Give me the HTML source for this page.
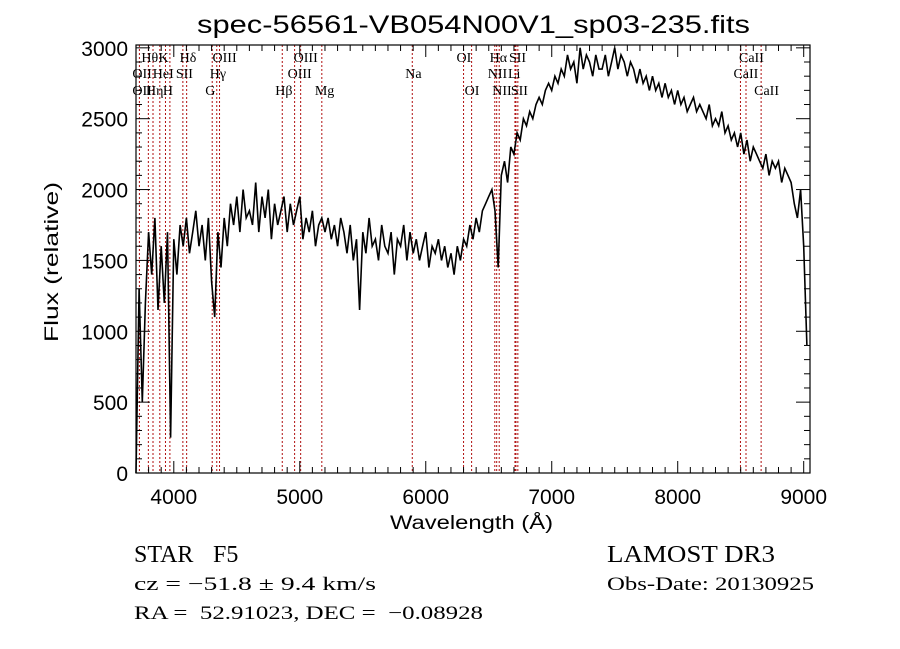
<!DOCTYPE html>
<html><head><meta charset="utf-8"><style>
html,body{margin:0;padding:0;background:#fff;}
svg{display:block;}
text{font-family:"Liberation Serif",serif;fill:#000;white-space:pre;}
.mono{font-family:"Liberation Sans",sans-serif;}
.lbl{font-size:14px;}
</style></head><body>
<svg id="chart" width="900" height="649" viewBox="0 0 900 649" xmlns="http://www.w3.org/2000/svg">
<rect x="0" y="0" width="900" height="649" fill="#fff"/>
<text x="197" y="33" font-size="25" textLength="553" lengthAdjust="spacingAndGlyphs" class="mono">spec-56561-VB054N00V1_sp03-235.fits</text>
<g id="lines"></g>
<g id="labels"></g>
<g id="series"></g>
<g id="axes"></g>
<text x="390" y="529" font-size="19" textLength="163" lengthAdjust="spacingAndGlyphs" class="mono">Wavelength (Å)</text>
<text transform="translate(58,342) rotate(-90)" font-size="19" textLength="160" lengthAdjust="spacingAndGlyphs" class="mono">Flux (relative)</text>
<text x="134" y="562" font-size="24">STAR</text>
<text x="213" y="562" font-size="24">F5</text>
<text x="134" y="590" font-size="19" textLength="242" lengthAdjust="spacingAndGlyphs">cz = −51.8 ± 9.4 km/s</text>
<text x="134" y="619" font-size="19" textLength="349" lengthAdjust="spacingAndGlyphs">RA =  52.91023, DEC =  −0.08928</text>
<text x="607" y="562" font-size="24" textLength="168" lengthAdjust="spacingAndGlyphs">LAMOST DR3</text>
<text x="607" y="590" font-size="19" textLength="207" lengthAdjust="spacingAndGlyphs">Obs-Date: 20130925</text>
</svg>
<script>
const wlStart = 3700;
const wlStep = 25;
const flux = [
0,1300,500,1200, 1700,1400,1800,1150, 1600,1200,1700,250, 1650,1400,1750,1600,
1800,1550,1700,1850, 1600,1750,1500,1800, 1350,1100,1700,1450, 1800,1600,1900,1750,
1950,1700,2000,1800, 1850,1750,2050,1700, 1950,1800,2000,1650, 1900,1750,1850,1950,
1700,1900,1750,1850, 1950,1650,1800,1700, 1850,1600,1750,1800, 1700,1800,1650,1750,
1600,1800,1700,1550, 1750,1500,1650,1150, 1700,1550,1800,1600, 1650,1500,1750,1600,
1550,1700,1400,1650, 1600,1750,1500,1700, 1550,1650,1500,1600, 1700,1450,1600,1550,
1650,1500,1600,1450, 1550,1400,1600,1500, 1650,1600,1750,1650, 1800,1700,1850,1900,
1950,2000,1850,1450, 2100,2200,2050,2300, 2250,2400,2350,2500, 2450,2550,2500,2600,
2650,2600,2700,2750, 2700,2800,2750,2850, 2800,2950,2850,2900, 2750,3000,2850,2950,
2900,2800,2950,2850, 2850,2950,2800,2900, 3000,2850,2950,2900, 2800,2900,2850,2750,
2850,2750,2800,2700, 2800,2700,2750,2650, 2750,2650,2700,2600, 2700,2600,2650,2550,
2600,2650,2550,2600, 2550,2500,2600,2450, 2500,2450,2550,2400, 2450,2350,2400,2300,
2400,2250,2350,2200, 2300,2250,2200,2150, 2250,2100,2200,2150, 2200,2050,2150,2100,
2050,1900,1800,2000, 1600,900
];
const lineWl = [3727,3798,3835,3889,3934,3969,4072,4102,4305,4341,4363,4861,4959,5007,5175,5893,6300,6364,6548,6563,6583,6708,6716,6731,8498,8542,8662];
const labelText = ["Hθ","K","Hδ","OIII","OIII","OI","Hα","SII","CaII",
 "OII","HeI","SII","Hγ","OIII","Na","NII","Li","CaII",
 "OII","Hη","H","G","Hβ","Mg","OI","NII","SII","CaII"];
const labelWl = [3798,3934,4102,4363,5007,6300,6563,6716,8542,
 3727,3889,4072,4341,4959,5893,6548,6708,8498,
 3727,3835,3969,4305,4861,5175,6364,6583,6731,8662];
const labelRow = [0,0,0,0,0,0,0,0,0, 1,1,1,1,1,1,1,1,1, 2,2,2,2,2,2,2,2,2,2];
const xTicks = [4000,5000,6000,7000,8000,9000];
const yTicks = [0,500,1000,1500,2000,2500,3000];

const X0=136,X1=810,Y0=473,Y1=45, WMIN=3700,WMAX=9050,FMIN=0,FMAX=3020;
const xs = w => X0+(w-WMIN)/(WMAX-WMIN)*(X1-X0);
const ys = f => Y0-(f-FMIN)/(FMAX-FMIN)*(Y0-Y1);
const NS="http://www.w3.org/2000/svg";
function mk(tag,attrs,parent){const e=document.createElementNS(NS,tag);for(const k in attrs)e.setAttribute(k,attrs[k]);parent.appendChild(e);return e;}

const gL=document.getElementById('lines');
lineWl.forEach(w=>{
  const l=mk('line',{x1:xs(w),x2:xs(w),y1:Y1,y2:Y0,stroke:'#b01010','stroke-width':1,'stroke-dasharray':'2,2'},gL);
  
  
});
const gT=document.getElementById('labels');
const rowY=[62,78,95];
labelText.forEach((t,i)=>{
  const e=mk('text',{x:xs(labelWl[i])-7,y:rowY[labelRow[i]],class:'lbl'},gT);
  e.textContent=t;
  
  
});
const gS=document.getElementById('series');
let d='';
flux.forEach((f,i)=>{d+=(i?'L':'M')+xs(wlStart+i*wlStep).toFixed(1)+','+ys(f).toFixed(1);});
const p=mk('path',{d:d,fill:'none',stroke:'#000','stroke-width':1.6},gS);



const gA=document.getElementById('axes');
const fr=mk('rect',{x:X0,y:Y1,width:X1-X0,height:Y0-Y1,fill:'none',stroke:'#000','stroke-width':1.2},gA);


for(let w=3700;w<=9050;w+=100){
  const big=w%1000===0, len=big?12:6;
  mk('line',{x1:xs(w),x2:xs(w),y1:Y0,y2:Y0-len,stroke:'#000'},gA);
  mk('line',{x1:xs(w),x2:xs(w),y1:Y1,y2:Y1+len,stroke:'#000'},gA);
}
for(let f=0;f<=3000;f+=100){
  const big=f%500===0, len=big?14:6;
  mk('line',{x1:X0,x2:X0+len,y1:ys(f),y2:ys(f),stroke:'#000'},gA);
  mk('line',{x1:X1,x2:X1-len,y1:ys(f),y2:ys(f),stroke:'#000'},gA);
}
xTicks.forEach(w=>{
  const t=mk('text',{x:xs(w),y:Y0+31,'font-size':21,'text-anchor':'middle',class:'mono'},gA);
  t.textContent=String(w);
  
  
});
yTicks.forEach(f=>{
  const t=mk('text',{x:X0-8,y:ys(f)+8,'font-size':21,'text-anchor':'end',class:'mono'},gA);
  t.textContent=String(f);
  
  
});
</script>
</body></html>
